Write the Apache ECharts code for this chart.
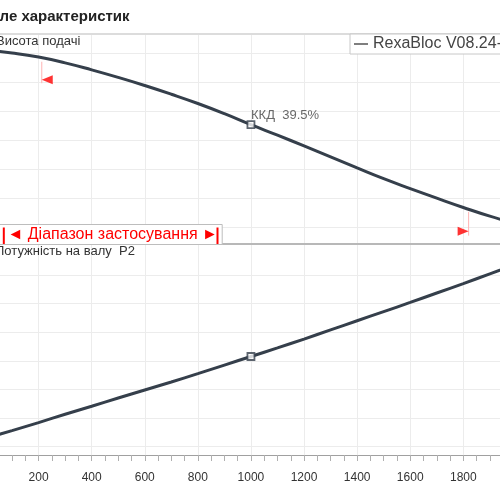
<!DOCTYPE html>
<html>
<head>
<meta charset="utf-8">
<script src="https://cdn.jsdelivr.net/npm/echarts@6/dist/echarts.min.js"></script>
<style>html,body{margin:0;padding:0;background:#fff}#c{width:500px;height:500px}</style>
</head>
<body>
<div id="c"></div>
<script>
// ---- data ----
const pumpName = 'RexaBloc V08.24-200';
const flowQ  = [0, 100, 200, 300, 400, 500, 600, 700, 800, 900, 1000, 1100, 1200, 1300, 1400, 1500, 1600, 1700, 1800, 1900, 2000];
const headH  = [61.1, 60.1, 58.7, 56.7, 54.3, 51.7, 48.9, 45.9, 42.7, 39.2, 35.4, 31.8, 28.1, 24.3, 20.5, 16.8, 13.4, 10.1, 6.9, 3.9, 1.3];
const powerP = [2.9, 5.6, 8.4, 11.3, 14.1, 17.0, 19.8, 22.6, 25.5, 28.5, 31.5, 34.5, 37.6, 40.8, 44.0, 47.2, 50.4, 53.7, 57.0, 60.4, 63.8];
const bepQ = [1000];
const bepH = [35.4];
const bepP = [31.5];
const bepEff = 39.5;
const rangeQ = [212, 1820];
const rangeMarkH = [50.9, -1.3];
const rangeLineTop = [57.1, 5.4];
const rangeLineBottom = [49.7, -2.8];
const xTicks = {min: 0, max: 2000, interval: 200};
const yTicks = {min: 0, max: 60, interval: 10};
const title = 'Поле характеристик';
const headLabel = 'Висота подачі';
const powerLabel = 'Потужність на валу  P2';
const rangeLabel = '◄ Діапазон застосування ►';

// ---- chart ----
const chart = echarts.init(document.getElementById('c'), null, {renderer: 'canvas'});
const LINE = '#353f4b';
const GRIDC = '#ececec';
const L = -14.5, R = -16.4;
const font = "'Liberation Sans', Arial, sans-serif";

const hiddenY = (g) => ({gridIndex: g, show: false, min: 0, max: 1});
const dataY = (g) => ({
  gridIndex: g, type: 'value', min: yTicks.min, max: yTicks.max, interval: yTicks.interval,
  axisLine: {show: false}, axisTick: {show: false}, axisLabel: {show: false},
  splitLine: {show: true, lineStyle: {color: GRIDC, width: 1}}
});
const baseX = {type: 'value', min: xTicks.min, max: xTicks.max, interval: xTicks.interval};

const bepMarker = {symbol: 'rect', symbolSize: 7, itemStyle: {color: '#fff', borderColor: LINE, borderWidth: 1.8}};

const series = [
  {name: pumpName, type: 'line', xAxisIndex: 3, yAxisIndex: 2, clip: false, smooth: true, symbol: 'none',
   lineStyle: {color: LINE, width: 3}, itemStyle: {color: LINE}, z: 3,
   data: flowQ.map((q, i) => [q, headH[i]])},
  {name: pumpName, type: 'line', xAxisIndex: 4, yAxisIndex: 3, clip: false, smooth: true, symbol: 'none',
   lineStyle: {color: LINE, width: 3}, itemStyle: {color: LINE}, z: 3,
   data: flowQ.map((q, i) => [q, powerP[i]])},
  Object.assign({name: 'bepH', type: 'scatter', xAxisIndex: 3, yAxisIndex: 2, clip: false, z: 5,
   data: bepQ.map((q, i) => [q, bepH[i]]),
   label: {show: true, formatter: () => 'ККД  ' + bepEff.toFixed(1) + '%', position: [4.5, -4.5], align: 'left', verticalAlign: 'middle',
           fontSize: 13, color: '#444', fontFamily: font}}, bepMarker),
  Object.assign({name: 'bepP', type: 'scatter', xAxisIndex: 4, yAxisIndex: 3, clip: false, z: 5,
   data: bepQ.map((q, i) => [q, bepP[i]])}, bepMarker),
  {name: 'rangeMarks', type: 'scatter', xAxisIndex: 3, yAxisIndex: 2, clip: false, z: 4,
   symbol: 'triangle', symbolSize: [9, 11], itemStyle: {color: '#ff0000'},
   data: rangeQ.map((q, i) => ({value: [q, rangeMarkH[i]], symbolRotate: i === 0 ? 90 : -90, symbolOffset: i === 0 ? [5.5, 0] : [-5.5, 0]}))}
];
rangeQ.forEach((q, i) => {
  series.push({name: 'rangeLine' + i, type: 'line', xAxisIndex: 3, yAxisIndex: 2, clip: false, symbol: 'none', z: 2,
    lineStyle: {color: '#ffb3b3', width: 1}, data: [[q, rangeLineTop[i]], [q, rangeLineBottom[i]]]});
});

const gridBase = {left: L, right: R, containLabel: false, outerBoundsMode: 'none'};

chart.setOption({
  animation: false,
  backgroundColor: '#fff',
  textStyle: {fontFamily: font},
  title: {text: title, left: -20, top: 9, padding: 0,
          textStyle: {fontSize: 15, fontWeight: 'bold', color: '#222', fontFamily: font}},
  legend: {data: [pumpName], left: 350, top: 34, padding: [2, 6, 2, 4], icon: 'rect', itemWidth: 14, itemHeight: 1.5,
           backgroundColor: '#fff', borderColor: '#c8c8c8', borderWidth: 1, z: 10,
           itemStyle: {color: '#555'}, textStyle: {fontSize: 16, color: '#444', fontFamily: font}},
  grid: [
    Object.assign({top: 34, height: 209.5}, gridBase),
    Object.assign({top: 243.5, height: 211.5}, gridBase),
    Object.assign({top: 53.3, height: 174.2}, gridBase),
    Object.assign({top: 275, height: 171.6}, gridBase)
  ],
  xAxis: [
    Object.assign({gridIndex: 0, position: 'bottom', axisLine: {show: true, onZero: false, lineStyle: {color: '#b8b8b8', width: 2}},
      axisTick: {show: false}, axisLabel: {show: false}, splitLine: {show: true, lineStyle: {color: GRIDC}}}, baseX),
    Object.assign({gridIndex: 0, position: 'top', axisLine: {show: true, onZero: false, lineStyle: {color: '#dcdcdc', width: 2}},
      axisTick: {show: false}, axisLabel: {show: false}, splitLine: {show: false}}, baseX),
    Object.assign({gridIndex: 1, position: 'bottom', axisLine: {show: true, onZero: false, lineStyle: {color: '#a0a0a0', width: 1.2}},
      axisTick: {show: true, length: 6, lineStyle: {color: '#b0b0b0'}},
      minorTick: {show: true, splitNumber: 4, length: 6, lineStyle: {color: '#b0b0b0'}},
      axisLabel: {show: true, margin: 17, fontSize: 12, color: '#333', fontFamily: font, formatter: (v) => String(v)},
      splitLine: {show: true, lineStyle: {color: GRIDC}}}, baseX),
    Object.assign({gridIndex: 2, show: false}, baseX),
    Object.assign({gridIndex: 3, show: false}, baseX)
  ],
  yAxis: [hiddenY(0), hiddenY(1), dataY(2), dataY(3)],
  graphic: [
    {type: 'text', left: -4, top: 35, z: 20, style: {text: headLabel, fontSize: 13, fill: '#333', fontFamily: font}},
    {type: 'text', left: -5, top: 245, z: 20, style: {text: powerLabel, fontSize: 13, fill: '#333', fontFamily: font}},
    {type: 'group', left: -5, top: 224, z: 20, children: [
      {type: 'rect', z: 20, shape: {x: 0, y: 0, width: 226.7, height: 20}, style: {fill: '#fff', stroke: '#bdbdbd', lineWidth: 1}},
      {type: 'line', z: 21, shape: {x1: 8.3, y1: 3, x2: 8.3, y2: 19.5}, style: {stroke: '#ff0000', lineWidth: 2}},
      {type: 'line', z: 21, shape: {x1: 222, y1: 3, x2: 222, y2: 19.5}, style: {stroke: '#ff0000', lineWidth: 2}},
      {type: 'text', z: 21, x: 12, y: 10.5, style: {text: rangeLabel, fontSize: 16, fill: '#ff0000', fontFamily: font, verticalAlign: 'middle'}}
    ]}
  ],
  series: series
});
</script>
</body>
</html>
